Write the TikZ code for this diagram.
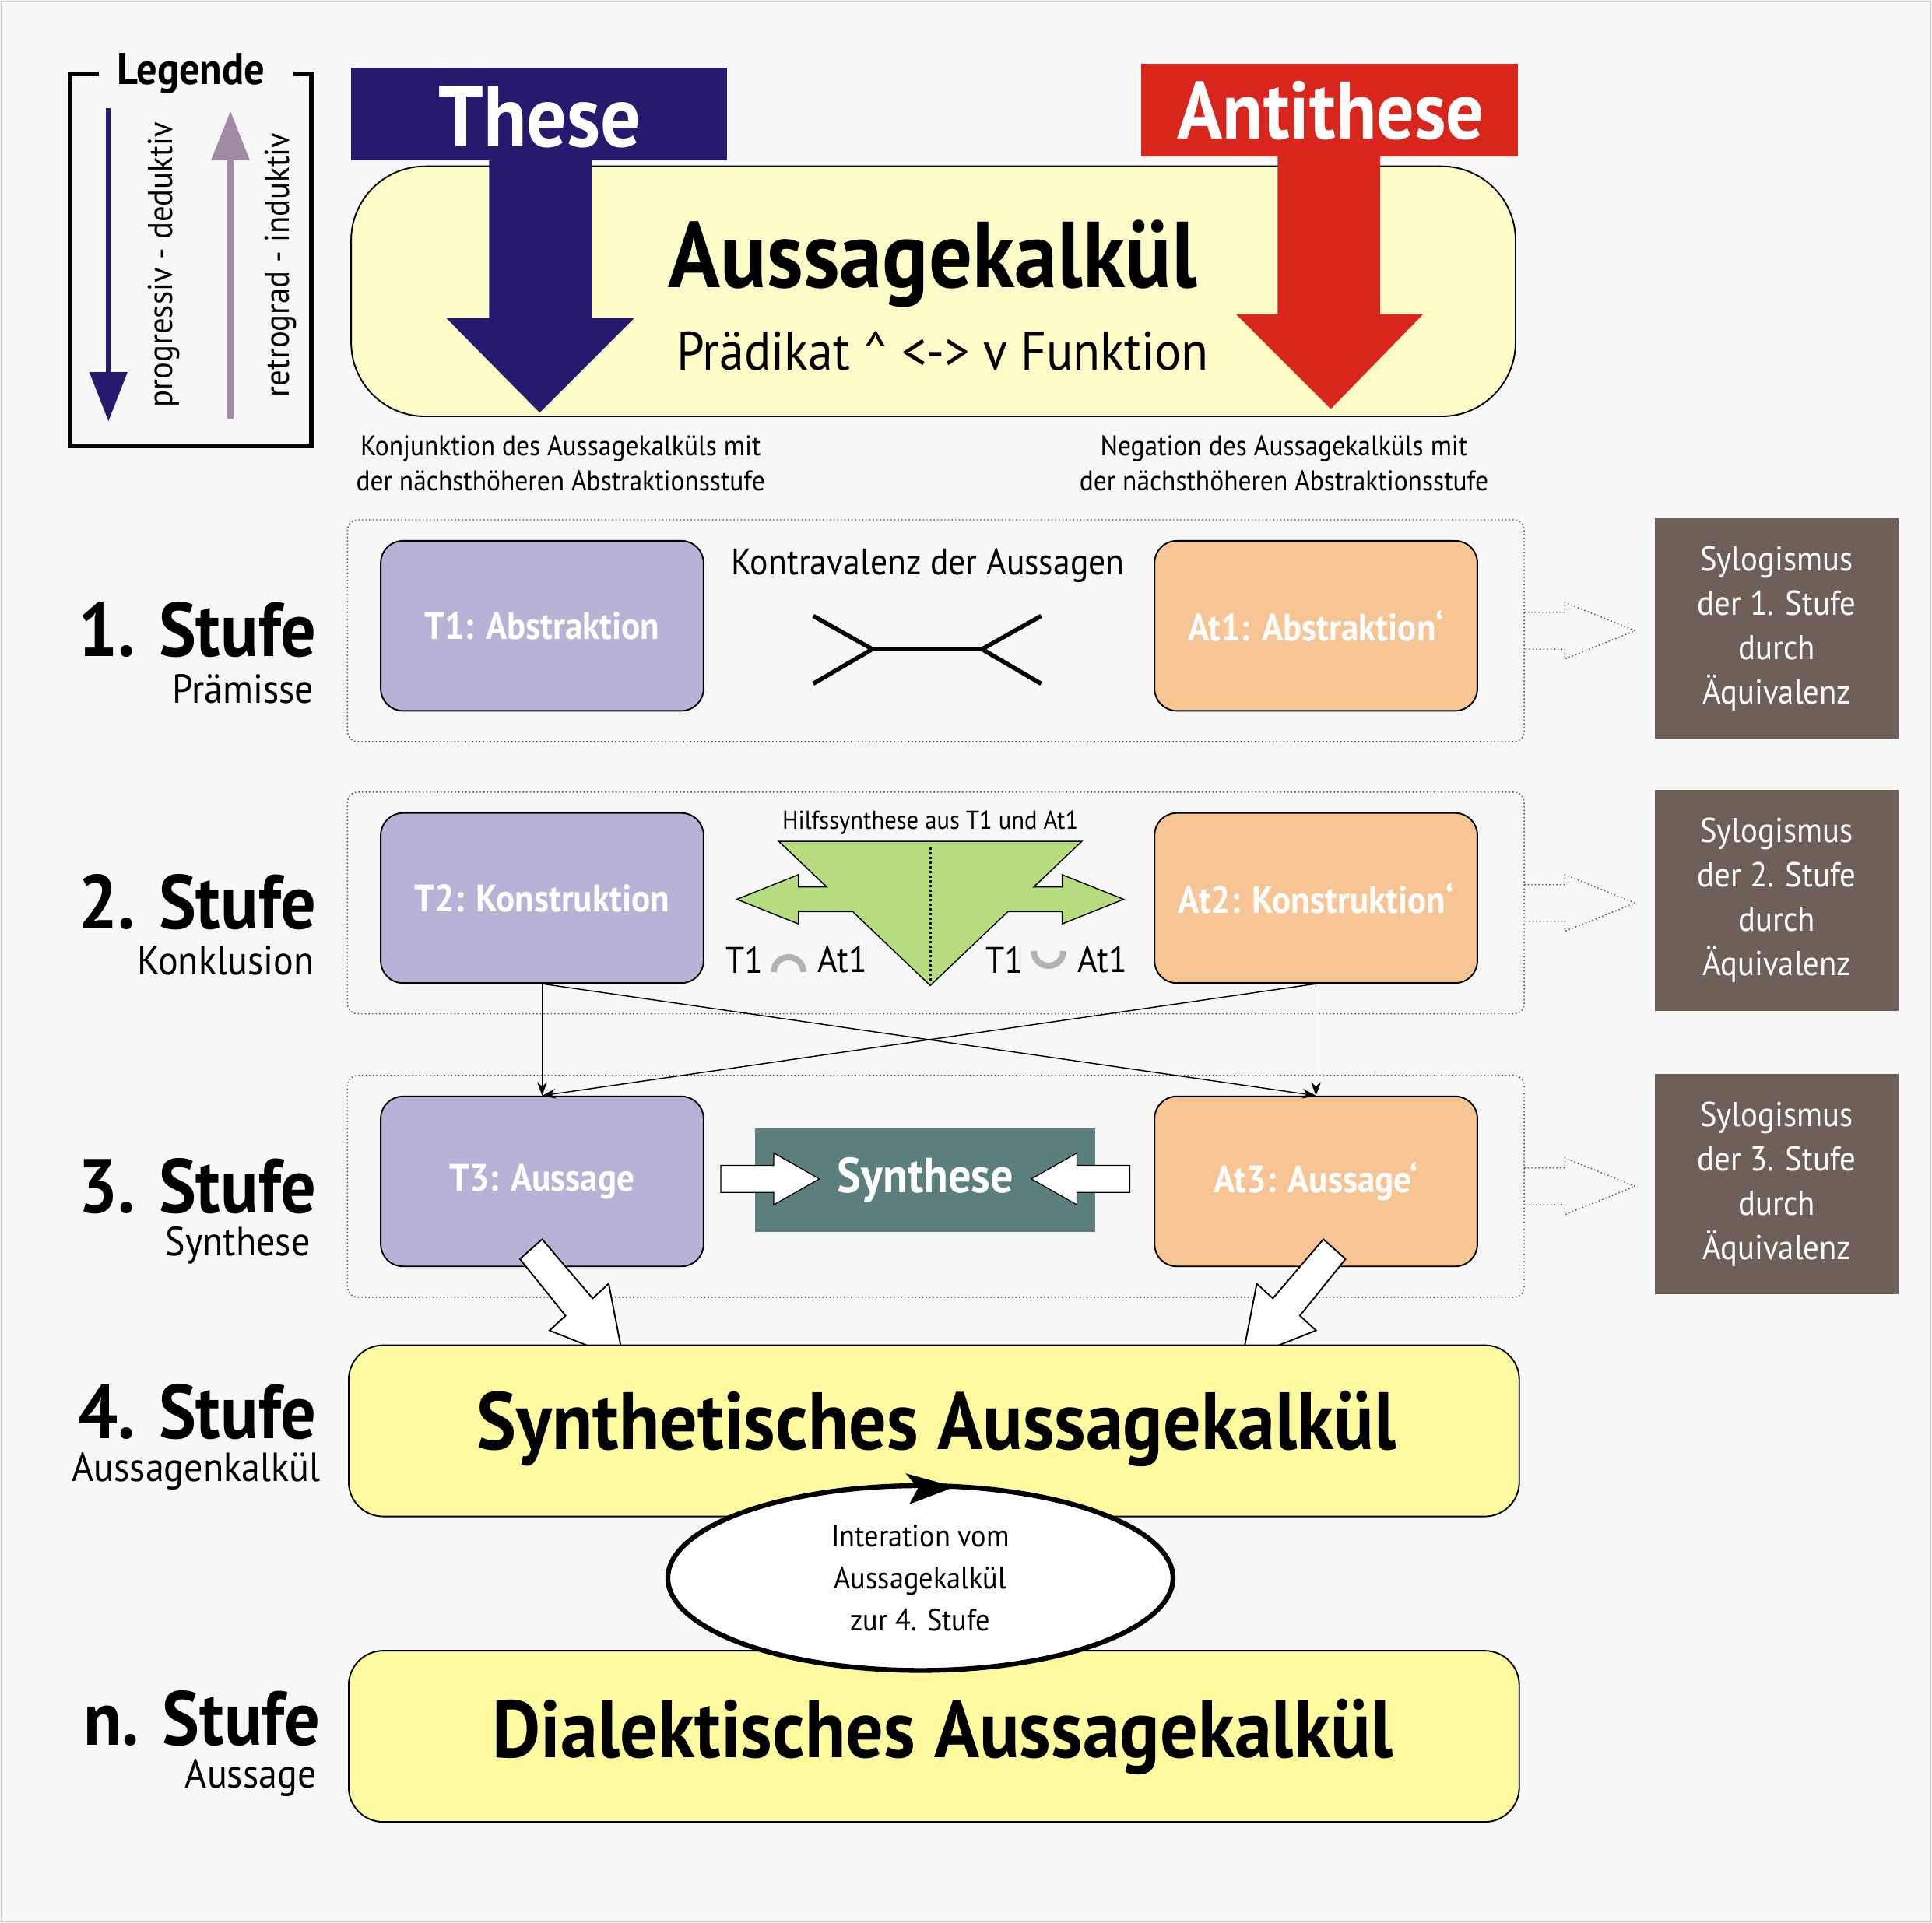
\documentclass[tikz,border=0pt]{standalone}
\usepackage{fontspec}
\setmainfont{PT Sans}[FakeStretch=0.92]
\usetikzlibrary{arrows.meta,shapes.geometric}
\definecolor{bg}{HTML}{F7F7F7}
\definecolor{thesec}{HTML}{251A6E}
\definecolor{antic}{HTML}{D9261C}
\definecolor{ylight}{HTML}{FDFBC8}
\definecolor{ystrong}{HTML}{FDFA9F}
\definecolor{tpur}{HTML}{B8B2D6}
\definecolor{torg}{HTML}{F7C494}
\definecolor{gbox}{HTML}{6E6058}
\definecolor{green1}{HTML}{B5DC7E}
\definecolor{synth}{HTML}{5B7F7D}
\definecolor{mauve}{HTML}{A08AA5}
\tikzset{
 tnode/.style={draw=black,line width=1.2pt,rounded corners=18pt,fill=tpur,text=white,font=\bfseries\fontsize{31}{38}\selectfont},
 anode/.style={tnode,fill=torg},
 dotbox/.style={draw=black!70,line width=0.9pt,dotted,rounded corners=8pt},
 gray/.style={fill=gbox,text=white,align=center,font=\fontsize{28}{36}\selectfont},
 stufe/.style={anchor=east,inner sep=1pt,font=\bfseries\fontsize{62}{64}\selectfont},
 sub/.style={anchor=east,inner sep=1pt,font=\fontsize{33}{34}\selectfont},
 conn/.style={-{Stealth[length=11pt,width=8pt]},line width=0.9pt},
 big/.style={draw=black,line width=1.2pt,rounded corners=28pt,fill=ystrong},
 lbl/.style={font=\fontsize{30}{32}\selectfont},
}
\begin{document}
\begin{tikzpicture}[x=1pt,y=-1pt]
\useasboundingbox (0,0) rectangle (1568,1561);
\fill[bg] (0,0) rectangle (1568,1561);
\draw[black!20,line width=1pt] (1,1) rectangle (1567,1560);
% legend
\draw[line width=4pt] (80,60) -- (57,60) -- (57,362) -- (253,362) -- (253,60) -- (238,60);
\node[font=\bfseries\fontsize{36}{40}\selectfont] (leg) at (155,60) {Legende};
\coordinate (la1) at (88,88); \coordinate (la2) at (88,342);
\draw[thesec,line width=4pt,-{Triangle[length=40pt,width=30pt]}] (la1) -- (la2);
\coordinate (lb1) at (187,340); \coordinate (lb2) at (187,90);
\draw[mauve,line width=5pt,-{Triangle[length=40pt,width=30pt]}] (lb1) -- (lb2);
\node[rotate=90,font=\fontsize{28}{32}\selectfont] (lt1) at (133,215) {progressiv - deduktiv};
\node[rotate=90,font=\fontsize{28}{32}\selectfont] (lt2) at (228,215) {retrograd - induktiv};
% Aussagekalkül
\node[draw=black,line width=1.2pt,fill=ylight,rounded corners=60pt,minimum width=945pt,minimum height=203pt] (ak) at (757.5,236.5) {};
\fill[thesec] (285,55) rectangle (590,130);
\fill[thesec] (397,128) -- (480,128) -- (480,258) -- (515,258) -- (438,335) -- (362,258) -- (397,258) -- cycle;
\node[text=white,font=\bfseries\fontsize{70}{72}\selectfont] (these) at (438,95) {These};
\fill[antic] (926,52) rectangle (1232,127);
\fill[antic] (1037,125) -- (1120,125) -- (1120,255) -- (1155,255) -- (1080,332) -- (1003,255) -- (1037,255) -- cycle;
\node[text=white,font=\bfseries\fontsize{66}{70}\selectfont] (anti) at (1080,90) {Antithese};
\node[font=\bfseries\fontsize{76}{78}\selectfont] (akt) at (757,214) {Aussagekalkül};
\node[font=\fontsize{44}{44}\selectfont] (prad) at (765,285) {Prädikat \^{} <-> v Funktion};
\node[align=center,font=\fontsize{23}{28}\selectfont] (kon) at (455,376) {Konjunktion des Aussagekalküls mit\\der nächsthöheren Abstraktionsstufe};
\node[align=center,font=\fontsize{23}{28}\selectfont] (neg) at (1042,376) {Negation des Aussagekalküls mit\\der nächsthöheren Abstraktionsstufe};
% rows
\foreach \y in {422,643,873}{
 \draw[dotbox] (282,\y) rectangle (1237,\y+180);
 \draw[black!70,line width=0.9pt,dotted] (1237,\y+75) -- (1270,\y+75) -- (1270,\y+67) -- (1327,\y+90) -- (1270,\y+113) -- (1270,\y+105) -- (1237,\y+105);
}
\node[tnode,minimum width=262pt,minimum height=138pt] (t1) at (440,508) {T1: Abstraktion};
\node[anode,minimum width=262pt,minimum height=138pt] (at1) at (1068,508) {At1: Abstraktion‘};
\node[tnode,minimum width=262pt,minimum height=138pt] (t2) at (440,729) {T2: Konstruktion};
\node[anode,minimum width=262pt,minimum height=138pt] (at2) at (1068,729) {At2: Konstruktion‘};
\node[tnode,minimum width=262pt,minimum height=138pt] (t3) at (440,959) {T3: Aussage};
\node[anode,minimum width=262pt,minimum height=138pt] (at3) at (1068,959) {At3: Aussage‘};
\node[gray,minimum width=198pt,minimum height=179pt] (g1) at (1442,510) {Sylogismus\\der 1. Stufe\\durch\\Äquivalenz};
\node[gray,minimum width=198pt,minimum height=179pt] (g2) at (1442,731) {Sylogismus\\der 2. Stufe\\durch\\Äquivalenz};
\node[gray,minimum width=198pt,minimum height=179pt] (g3) at (1442,961) {Sylogismus\\der 3. Stufe\\durch\\Äquivalenz};
\node[stufe] (s1) at (258,511) {1. Stufe}; \node[sub] (p1) at (256,559) {Prämisse};
\node[stufe] (s2) at (258,732) {2. Stufe}; \node[sub] (p2) at (256,780) {Konklusion};
\node[stufe] (s3) at (258,963) {3. Stufe}; \node[sub] (p3) at (253,1011) {Synthese};
\node[stufe] (s4) at (258,1146) {4. Stufe}; \node[sub] (p4) at (261,1194) {Aussagenkalkül};
\node[stufe] (s5) at (261,1395) {n. Stufe}; \node[sub] (p5) at (258,1443) {Aussage};
% Kontravalenz
\node[lbl] (kv) at (753,459) {Kontravalenz der Aussagen};
\draw[line width=3.5pt] (660,500) -- (708,527) -- (660,555) (708,527) -- (797,527) (845,500) -- (797,527) -- (845,555);
% green
\node[font=\fontsize{21}{22}\selectfont] (hs) at (755,668) {Hilfssynthese aus T1 und At1};
\draw[fill=green1,line width=0.9pt] (632,683) -- (878,683) -- (839,720) -- (862,720) -- (862,710) -- (912,730) -- (862,750) -- (862,740) -- (818,740) -- (755,800) -- (692,740) -- (648,740) -- (648,750) -- (598,730) -- (648,710) -- (648,720) -- (671,720) -- cycle;
\draw[line width=1.8pt,dotted] (755,688) -- (755,798);
\node[lbl] (u1) at (604,779) {T1};
\draw[black!30,line width=5pt] (628,789) arc (180:360:12);
\node[lbl] (u2) at (684,779) {At1};
\node[lbl] (u3) at (815,779) {T1};
\draw[black!30,line width=5pt] (839,772) arc (180:0:12);
\node[lbl] (u4) at (895,779) {At1};
% connectors
\draw[conn] (t2.south) -- (t3.north);
\draw[conn] (at2.south) -- (at3.north);
\draw[conn] (t2.south) -- (at3.north);
\draw[conn] (at2.south) -- (t3.north);
% synthese
\node[fill=synth,text=white,minimum width=276pt,minimum height=84pt,font=\bfseries\fontsize{40}{42}\selectfont] (syn) at (751,958) {Synthese};
\draw[fill=white,line width=0.8pt] (585,946) -- (628,946) -- (628,936) -- (665,957) -- (628,978) -- (628,968) -- (585,968) -- cycle;
\draw[fill=white,line width=0.8pt] (917,946) -- (874,946) -- (874,936) -- (837,957) -- (874,978) -- (874,968) -- (917,968) -- cycle;
% big hollow arrows
\draw[fill=white,line width=1.2pt] (422,1022) -- (440,1006) -- (481,1054) -- (494,1042) -- (506,1104) -- (446,1080) -- (459,1068) -- cycle;
\draw[fill=white,line width=1.2pt] (1092,1022) -- (1074,1006) -- (1033,1054) -- (1020,1042) -- (1008,1104) -- (1068,1080) -- (1055,1068) -- cycle;
% boxes
\node[big,minimum width=950pt,minimum height=139pt] (sak) at (758,1161.5) {};
\node[font=\bfseries\fontsize{66}{66}\selectfont] (sakt) at (760,1160) {Synthetisches Aussagekalkül};
\node[big,minimum width=950pt,minimum height=139pt] (dak) at (758,1409.5) {};
\node[font=\bfseries\fontsize{66}{66}\selectfont] (dakt) at (765,1410) {Dialektisches Aussagekalkül};
\node[ellipse,draw=black,line width=4pt,fill=white,minimum width=410pt,minimum height=150pt] (ell) at (747,1281) {};
\node[align=center,font=\fontsize{25}{34}\selectfont] (ellt) at (747,1281) {Interation vom\\Aussagekalkül\\zur 4. Stufe};
\fill (735,1196) -- (775,1207) -- (738,1221) -- (745,1208) -- cycle;
\end{tikzpicture}
\end{document}
